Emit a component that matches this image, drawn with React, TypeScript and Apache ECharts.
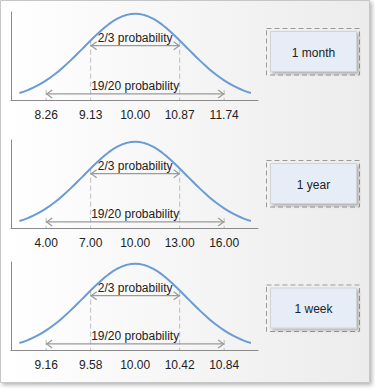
import React, { useEffect, useRef } from "react";
import * as echarts from "echarts";

// Curve: standardized position (in sigma units of the tick labels) and relative height
const curveZ = [-2.6, -2.4, -2.2, -2.0, -1.8, -1.6, -1.4, -1.2, -1.0, -0.8, -0.6, -0.4, -0.2, 0, 0.2, 0.4, 0.6, 0.8, 1.0, 1.2, 1.4, 1.6, 1.8, 2.0, 2.2, 2.4, 2.6];
const curveH = [0.082, 0.118, 0.166, 0.227, 0.301, 0.388, 0.484, 0.587, 0.69, 0.789, 0.875, 0.942, 0.985, 1.0, 0.985, 0.942, 0.875, 0.789, 0.69, 0.587, 0.484, 0.388, 0.301, 0.227, 0.166, 0.118, 0.082];

const titles = ["1 month", "1 year", "1 week"];
const tickZ = [-2, -1, 0, 1, 2];
const tickLabels = [
  ["8.26", "9.13", "10.00", "10.87", "11.74"],
  ["4.00", "7.00", "10.00", "13.00", "16.00"],
  ["9.16", "9.58", "10.00", "10.42", "10.84"],
];
const bandFrom = [-1, -2];
const bandTo = [1, 2];
const bandLevel = [0.63, 0.07];
const bandLabels = ["2/3 probability", "19/20 probability"];

const FONT = "'Liberation Sans', Arial, sans-serif";

export default function App() {
  const ref = useRef<HTMLDivElement>(null);
  useEffect(() => {
    const chart = echarts.init(ref.current!, undefined, { renderer: "svg" });
    const gridTops = [12, 140, 262];
    const boxTops = [28.5, 160.5, 285];

    const grids = gridTops.map((t) => ({ left: 11, top: t, width: 247, height: 88 }));
    const xAxes = tickLabels.map((labels, i) => ({
      type: "value",
      gridIndex: i,
      min: -2.79,
      max: 2.76,
      splitLine: { show: false },
      axisTick: { show: false },
      axisLine: { show: true, onZero: false, lineStyle: { color: "#8a8a8a", width: 1 } },
      axisLabel: {
        customValues: tickZ,
        margin: 9,
        color: "#222",
        fontSize: 12,
        fontFamily: FONT,
        formatter: (v: number) => {
          const k = tickZ.findIndex((z) => Math.abs(z - v) < 1e-6);
          return k >= 0 ? labels[k] : "";
        },
      },
    }));
    const yAxes = tickLabels.map((_, i) => ({
      type: "value",
      gridIndex: i,
      min: 0,
      max: 1.02,
      splitLine: { show: false },
      axisTick: { show: false },
      axisLabel: { show: false },
      axisLine: { show: true, onZero: false, lineStyle: { color: "#8a8a8a", width: 1 } },
    }));

    const series: any[] = [];
    tickLabels.forEach((_, i) => {
      series.push({
        type: "custom",
        xAxisIndex: i,
        yAxisIndex: i,
        silent: true,
        z: 1,
        encode: { x: [0, 1], y: 2 },
        data: bandFrom.map((f, k) => [f, bandTo[k], bandLevel[k]]),
        renderItem: (params: any, api: any) => {
          const from = api.value(0);
          const to = api.value(1);
          const lvl = api.value(2);
          const a = api.coord([from, lvl]);
          const b = api.coord([to, lvl]);
          const base = api.coord([from, 0]);
          const dash = { stroke: "#bdbdbd", lineWidth: 1, lineDash: [5, 3], fill: null };
          const arr = { stroke: "#9a9a9a", lineWidth: 1.2, fill: null };
          return {
            type: "group",
            children: [
              { type: "line", shape: { x1: a[0], y1: a[1] - 4, x2: a[0], y2: base[1] }, style: dash },
              { type: "line", shape: { x1: b[0], y1: b[1] - 4, x2: b[0], y2: base[1] }, style: dash },
              { type: "line", shape: { x1: a[0], y1: a[1], x2: b[0], y2: b[1] }, style: arr },
              { type: "polyline", shape: { points: [[a[0] + 6, a[1] - 4], [a[0] + 0.5, a[1]], [a[0] + 6, a[1] + 4]] }, style: arr },
              { type: "polyline", shape: { points: [[b[0] - 6, b[1] - 4], [b[0] - 0.5, b[1]], [b[0] - 6, b[1] + 4]] }, style: arr },
              {
                type: "text",
                style: {
                  text: bandLabels[params.dataIndex],
                  x: (a[0] + b[0]) / 2,
                  y: a[1] - 2,
                  align: "center",
                  verticalAlign: "bottom",
                  fill: "#222",
                  fontSize: 12,
                  fontFamily: FONT,
                },
              },
            ],
          };
        },
      });
      series.push({
        type: "line",
        xAxisIndex: i,
        yAxisIndex: i,
        smooth: true,
        symbol: "none",
        z: 3,
        lineStyle: { color: "#6b9bd3", width: 2 },
        data: curveZ.map((z, k) => [z, curveH[k]]),
      });
    });

    const graphic: any[] = [
      {
        type: "rect",
        z: -10,
        silent: true,
        shape: { x: 0.5, y: 0.5, width: 369, height: 382 },
        style: {
          fill: new echarts.graphic.LinearGradient(0, 0, 1, 0, [
            { offset: 0, color: "#ffffff" },
            { offset: 1, color: "#ececec" },
          ]),
          stroke: "#c6c6c6",
          lineWidth: 1,
          shadowBlur: 4,
          shadowOffsetX: 2,
          shadowOffsetY: 2,
          shadowColor: "rgba(0,0,0,0.3)",
        },
      },
    ];
    titles.forEach((t, i) => {
      const top = boxTops[i];
      graphic.push({
        type: "group",
        silent: true,
        children: [
          {
            type: "rect",
            shape: { x: 266.5, y: top, width: 93, height: 46.5 },
            style: { fill: null, stroke: "#9a9a9a", lineWidth: 1, lineDash: [5, 3] },
          },
          {
            type: "rect",
            shape: { x: 270.5, y: top + 3, width: 86, height: 40 },
            style: {
              fill: "#e6edf7",
              stroke: "#d2d2d2",
              lineWidth: 1,
              shadowBlur: 3,
              shadowOffsetX: 2,
              shadowOffsetY: 2,
              shadowColor: "rgba(0,0,0,0.25)",
            },
          },
          {
            type: "text",
            style: {
              text: t,
              x: 313.5,
              y: top + 24,
              align: "center",
              verticalAlign: "middle",
              fill: "#222",
              fontSize: 12,
              fontFamily: FONT,
            },
          },
        ],
      });
    });

    chart.setOption({
      animation: false,
      grid: grids,
      xAxis: xAxes,
      yAxis: yAxes,
      series,
      graphic,
    });
    return () => chart.dispose();
  }, []);
  return <div ref={ref} style={{ position: "absolute", left: 0, top: 0, width: 375, height: 389 }} />;
}
